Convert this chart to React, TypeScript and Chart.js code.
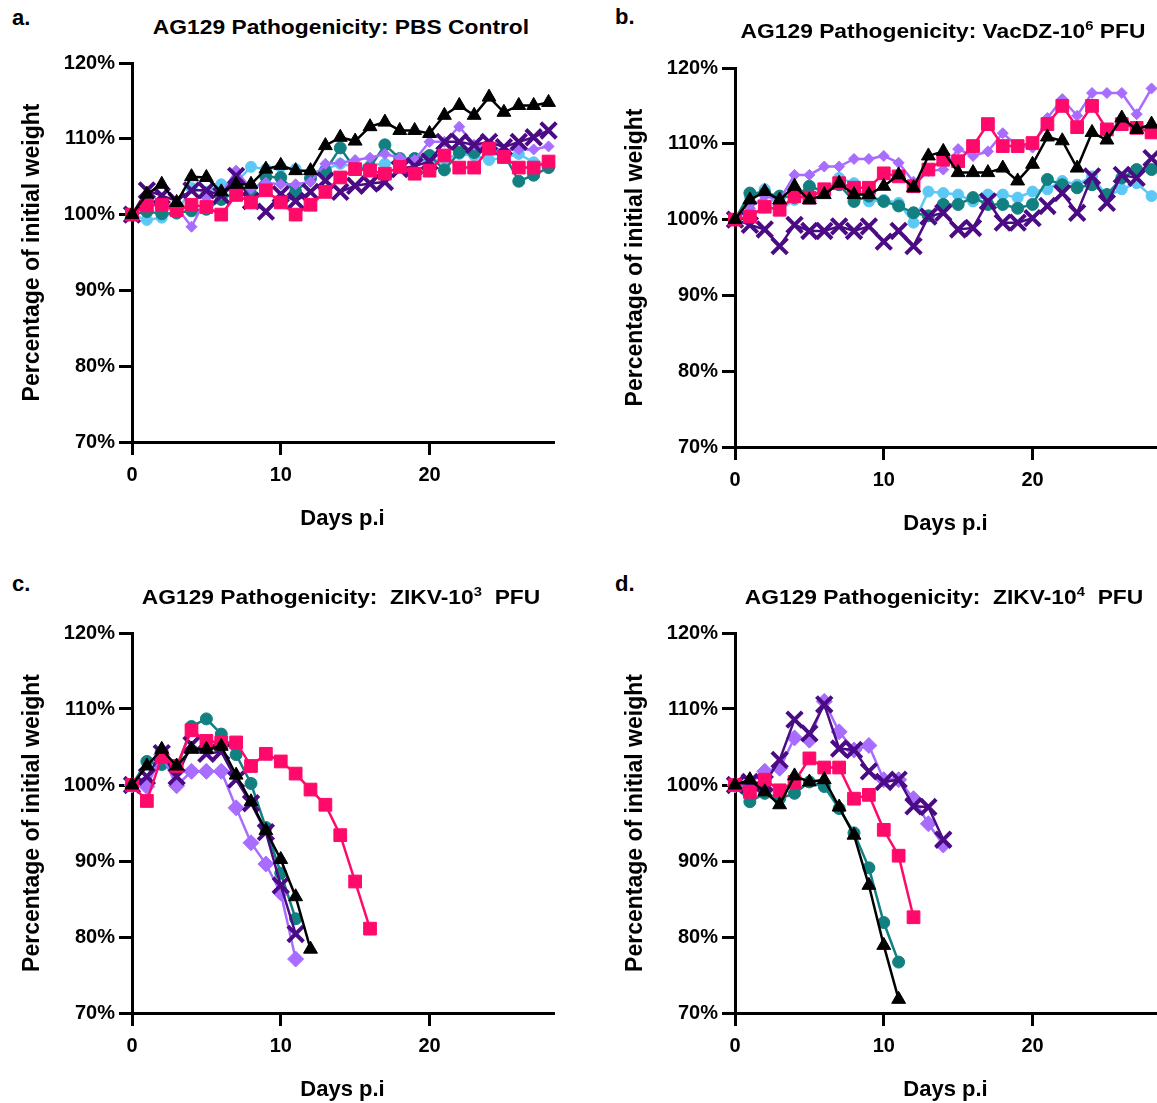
import React, { useEffect, useRef } from 'react';
import { Chart, registerables } from 'chart.js';
Chart.register(...registerables);

// ---------- Data (value per day, index = day p.i) ----------
const X_TICKS = [0, 10, 20];
const Y_TICKS = [70, 80, 90, 100, 110, 120];

// a. PBS Control
const A_LIGHTBLUE = [100, 99.3, 99.6, 100.3, 103.5, 103, 104, 104.3, 106.3, 106, 106.3, 106, 105.5, 106, 106.7, 106.3, 106.5, 106.7, 107, 107.2, 107, 107.3, 108, 107.8, 107.2, 107.5, 108, 106.9, 106.5];
const A_TEAL = [100, 100.4, 100.1, 100.2, 100.5, 100.7, 102, 103, 102.7, 105, 104.9, 103, 104.8, 105.8, 108.8, 106, 106.2, 109.2, 107.4, 107.4, 107.8, 105.9, 108.2, 108.2, 109.1, 108, 104.4, 105.2, 106.2];
const A_LIGHTPURPLE = [100, 101.8, 101.5, 101, 98.4, 102.2, 102.7, 105.8, 103.4, 104.2, 104, 104, 104.3, 106.7, 106.8, 107.2, 107.5, 108, 107.5, 107.2, 109.6, 109.6, 111.6, 109.2, 108.8, 108.5, 108.6, 108.6, 109];
const A_DARKPURPLE = [100, 103.2, 102.5, 101.8, 103.2, 103.2, 102.5, 105.1, 101.8, 100.4, 102.7, 101.8, 103, 104.5, 103, 103.8, 104.1, 104.3, 106, 106.4, 107, 109.6, 109.6, 109.2, 109.6, 108.9, 109.6, 110.2, 111.1];
const A_PINK = [100, 101.2, 101.3, 100.6, 101.3, 101, 100, 102.6, 101.6, 103.2, 101.6, 100, 101.3, 103, 104.9, 106, 105.8, 105.4, 106.3, 105.4, 105.8, 107.8, 106.2, 106.2, 108.7, 107.6, 106.2, 106.2, 107];
const A_BLACK = [100, 102.7, 104, 101.6, 105, 104.9, 103, 104, 104, 106, 106.5, 105.8, 105.8, 109.1, 110.2, 109.7, 111.6, 112.2, 111.1, 111.1, 110.7, 113.1, 114.4, 113.1, 115.5, 113.5, 114.4, 114.4, 114.8];

// b. VacDZ-10^6 PFU
const B_LIGHTBLUE = [100, 103, 104, 101.3, 102.6, 103.3, 103.8, 105.5, 104.8, 102.4, 102.6, 102.2, 99.6, 103.7, 103.5, 103.3, 102.4, 103.3, 103.3, 102.9, 103.7, 104, 105.1, 104.6, 105.7, 103.1, 104, 104.8, 103.1];
const B_TEAL = [100, 103.5, 103.5, 103.1, 102.9, 104.4, 103.7, 104.6, 102.4, 103.1, 102.4, 101.8, 100.9, 100.5, 102, 102, 102.9, 102, 102, 101.5, 102, 105.3, 104.6, 104.2, 104.6, 103.3, 105.5, 106.6, 106.6];
const B_LIGHTPURPLE = [100, 101.5, 103.1, 102.6, 105.9, 105.9, 107, 107, 108, 108, 108.4, 107.5, 105, 106.4, 106.6, 109.3, 108.4, 109, 111.4, 109.7, 109.5, 113.4, 115.9, 113.7, 116.7, 116.7, 116.7, 113.9, 117.3];
const B_DARKPURPLE = [100, 99.3, 98.7, 96.5, 99.3, 98.5, 98.5, 99.1, 98.5, 99.1, 97.1, 98.5, 96.5, 100.4, 100.9, 98.7, 98.9, 102.4, 99.6, 99.6, 100.2, 101.8, 103.5, 100.9, 105.7, 102.2, 105.9, 105.5, 108.1];
const B_PINK = [100, 100.4, 101.7, 101.3, 103.1, 102.9, 104, 104.8, 104.2, 104.2, 106.1, 105.7, 104.4, 106.6, 107.9, 107.7, 109.7, 112.6, 109.7, 109.7, 110.1, 112.6, 115, 112.2, 115, 111.9, 112.6, 112.1, 111.5];
const B_BLACK = [100, 102.6, 103.7, 102.6, 104.4, 102.6, 103.3, 104.8, 103.3, 103.3, 104.4, 105.9, 104.2, 108.4, 109, 106.2, 106.2, 106.2, 106.8, 105.1, 107.3, 110.9, 110.4, 106.8, 111.5, 110.5, 113.4, 111.9, 112.6];

// c. ZIKV-10^3 PFU
const C_TEAL = [100, 103.1, 102.7, 102, 107.7, 108.7, 106.7, 104, 100.2, 94.4, 88.4, 82.4];
const C_LIGHTPURPLE = [100, 99.8, 104, 99.9, 101.8, 101.8, 101.8, 97, 92.4, 89.6, 85.8, 77.1];
const C_DARKPURPLE = [100, 101.1, 104.2, 101.1, 105.3, 104.1, 104.4, 100.7, 97.6, 93.8, 86.8, 80.4];
const C_PINK = [100, 97.9, 103.7, 102.5, 107.2, 105.8, 105.6, 105.6, 102.5, 104.1, 103.1, 101.5, 99.4, 97.4, 93.4, 87.3, 81.1];
const C_BLACK = [100, 102.5, 104.7, 102.5, 104.7, 104.7, 105.1, 101.3, 97.8, 94, 90.2, 85.3, 78.4];

// d. ZIKV-10^4 PFU
const D_TEAL = [100, 97.8, 98.9, 98.2, 98.9, 100.4, 99.8, 96.9, 93.7, 89.1, 81.9, 76.7];
const D_LIGHTPURPLE = [100, 100.2, 101.8, 102.2, 106.2, 105.9, 111, 107, 104.6, 105.2, 100.7, 100.7, 98.2, 94.9, 92.1];
const D_DARKPURPLE = [100, 100.4, 100.2, 103.3, 108.6, 106.8, 110.6, 104.8, 104.6, 101.8, 100.4, 100.7, 97.2, 97.1, 92.8];
const D_PINK = [100, 99.1, 100.7, 99.3, 100.4, 103.5, 102.3, 102.3, 98.2, 98.7, 94.1, 90.7, 82.6];
const D_BLACK = [100, 100.7, 99.1, 97.4, 101.2, 100.4, 100.7, 97.1, 93.4, 86.8, 78.9, 71.8];

// ---------- Styles ----------
type Style = { color: string; shape: string; r: number; bw: number; lw: number };
const LIGHTBLUE: Style = { color: '#5CC8F5', shape: 'circle', r: 5.5, bw: 1, lw: 2.5 };
const TEAL: Style = { color: '#128080', shape: 'circle', r: 6, bw: 1, lw: 2.5 };
const LIGHTPURPLE_SM: Style = { color: '#A86CFF', shape: 'rectRot', r: 5.5, bw: 1, lw: 2.5 };
const LIGHTPURPLE_LG: Style = { color: '#A86CFF', shape: 'rectRot', r: 8, bw: 1, lw: 2.5 };
const DARKPURPLE: Style = { color: '#4A0B84', shape: 'crossRot', r: 11, bw: 4, lw: 2.5 };
const PINK: Style = { color: '#FF0A6A', shape: 'rect', r: 9, bw: 1, lw: 2.5 };
const BLACK: Style = { color: '#000000', shape: 'triangle', r: 8, bw: 1, lw: 2.5 };

type Series = { values: number[]; style: Style };

const FONT = "'Liberation Sans', Arial, sans-serif";
const X_MAX = 28.3;

function Panel({ left, top, plotH, series }: { left: number; top: number; plotH: number; series: Series[] }) {
  const ref = useRef<HTMLCanvasElement>(null);
  const W = 570;
  const H = 23 + plotH + 98;
  useEffect(() => {
    // Chart.js paints dataset 0 last (on top); list is given bottom-to-top, so reverse it.
    const ordered = [...series].reverse();
    const chart = new Chart(ref.current as HTMLCanvasElement, {
      type: 'line',
      data: {
        datasets: ordered.map((s) => ({
          data: s.values.map((v, i) => ({ x: i, y: v })),
          borderColor: s.style.color,
          backgroundColor: s.style.color,
          borderWidth: s.style.lw,
          pointStyle: s.style.shape as any,
          pointRadius: s.style.r,
          pointBorderWidth: s.style.bw,
          pointBorderColor: s.style.color,
          pointBackgroundColor: s.style.color,
          tension: 0,
          clip: false as any,
          fill: false,
        })),
      },
      options: {
        animation: false,
        responsive: false,
        maintainAspectRatio: false,
        devicePixelRatio: 1,
        layout: { padding: { top: 23, left: 0, right: W - 553, bottom: 0 } },
        plugins: { legend: { display: false }, tooltip: { enabled: false }, title: { display: false } },
        scales: {
          x: {
            type: 'linear',
            min: 0,
            max: X_MAX,
            afterBuildTicks: (s: any) => {
              s.ticks = X_TICKS.map((v) => ({ value: v }));
            },
            afterFit: (s: any) => {
              s.height = 98;
            },
            border: { display: true, color: '#000', width: 3 },
            grid: { drawOnChartArea: false, drawTicks: true, tickLength: 13, lineWidth: 3, color: '#000' },
            ticks: { color: '#000', padding: 8, maxRotation: 0, autoSkip: false, font: { family: FONT, size: 20, weight: 'bold' } },
            title: { display: true, text: 'Days p.i', color: '#000', font: { family: FONT, size: 22, weight: 'bold' }, padding: { top: 0, bottom: 8 } },
          },
          y: {
            type: 'linear',
            min: 70,
            max: 120,
            afterBuildTicks: (s: any) => {
              s.ticks = Y_TICKS.map((v) => ({ value: v }));
            },
            afterFit: (s: any) => {
              s.width = 132;
            },
            border: { display: true, color: '#000', width: 3 },
            grid: { drawOnChartArea: false, drawTicks: true, tickLength: 13, lineWidth: 3, color: '#000' },
            ticks: { color: '#000', padding: 4, autoSkip: false, font: { family: FONT, size: 20, weight: 'bold' }, callback: (v: any) => v + '%' },
            title: { display: true, text: 'Percentage of initial weight', color: '#000', font: { family: FONT, size: 23, weight: 'bold' }, padding: { top: 19, bottom: 0 } },
          },
        },
      } as any,
    });
    return () => chart.destroy();
  }, []);
  return <canvas ref={ref} width={W} height={H} style={{ position: 'absolute', left, top, width: W, height: H }} />;
}

function Title({ cx, cy, children }: { cx: number; cy: number; children: React.ReactNode }) {
  return (
    <div
      style={{
        position: 'absolute',
        left: cx,
        top: cy,
        transform: 'translate(-50%, -50%) scaleX(1.14)',
        whiteSpace: 'pre',
        fontFamily: FONT,
        fontWeight: 'bold',
        fontSize: 20,
        lineHeight: '24px',
        color: '#000',
      }}
    >
      {children}
    </div>
  );
}

function Sup({ children }: { children: React.ReactNode }) {
  return <span style={{ fontSize: 13, position: 'relative', top: -8 }}>{children}</span>;
}

function Letter({ x, cy, text }: { x: number; cy: number; text: string }) {
  return (
    <div style={{ position: 'absolute', left: x, top: cy, transform: 'translateY(-50%)', fontFamily: FONT, fontWeight: 'bold', fontSize: 22, lineHeight: '26px', color: '#000' }}>
      {text}
    </div>
  );
}

export default function App() {
  // listed bottom-most first, top-most last
  const seriesA: Series[] = [
    { values: A_LIGHTBLUE, style: LIGHTBLUE },
    { values: A_TEAL, style: TEAL },
    { values: A_LIGHTPURPLE, style: LIGHTPURPLE_SM },
    { values: A_DARKPURPLE, style: DARKPURPLE },
    { values: A_PINK, style: PINK },
    { values: A_BLACK, style: BLACK },
  ];
  const seriesB: Series[] = [
    { values: B_LIGHTBLUE, style: LIGHTBLUE },
    { values: B_TEAL, style: TEAL },
    { values: B_LIGHTPURPLE, style: LIGHTPURPLE_SM },
    { values: B_DARKPURPLE, style: DARKPURPLE },
    { values: B_PINK, style: PINK },
    { values: B_BLACK, style: BLACK },
  ];
  const seriesC: Series[] = [
    { values: C_TEAL, style: TEAL },
    { values: C_LIGHTPURPLE, style: LIGHTPURPLE_LG },
    { values: C_DARKPURPLE, style: DARKPURPLE },
    { values: C_PINK, style: PINK },
    { values: C_BLACK, style: BLACK },
  ];
  const seriesD: Series[] = [
    { values: D_TEAL, style: TEAL },
    { values: D_LIGHTPURPLE, style: LIGHTPURPLE_LG },
    { values: D_DARKPURPLE, style: DARKPURPLE },
    { values: D_PINK, style: PINK },
    { values: D_BLACK, style: BLACK },
  ];
  return (
    <div style={{ position: 'absolute', left: 0, top: 0, width: 1157, height: 1103, overflow: 'hidden', background: '#fff' }}>
      <Panel left={0} top={40} plotH={379} series={seriesA} />
      <Panel left={603} top={45} plotH={379} series={seriesB} />
      <Panel left={0} top={610} plotH={380} series={seriesC} />
      <Panel left={603} top={610} plotH={380} series={seriesD} />
      <Letter x={12} cy={18} text="a." />
      <Letter x={615} cy={17} text="b." />
      <Letter x={12} cy={584} text="c." />
      <Letter x={615} cy={584} text="d." />
      <Title cx={341} cy={27}>AG129 Pathogenicity: PBS Control</Title>
      <Title cx={943} cy={32}>
        AG129 Pathogenicity: VacDZ-10<Sup>6</Sup> PFU
      </Title>
      <Title cx={341} cy={598}>
        AG129 Pathogenicity:  ZIKV-10<Sup>3</Sup>  PFU
      </Title>
      <Title cx={944} cy={598}>
        AG129 Pathogenicity:  ZIKV-10<Sup>4</Sup>  PFU
      </Title>
    </div>
  );
}
